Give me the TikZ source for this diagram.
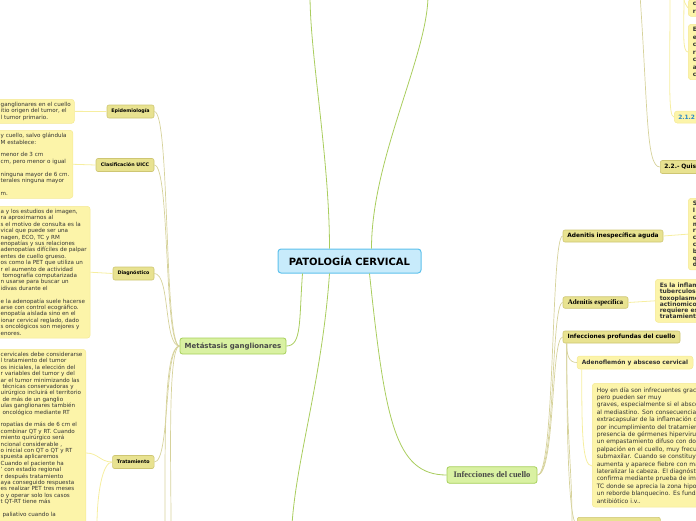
\documentclass[tikz,border=0pt]{standalone}
\usepackage{fontspec}
\setmainfont{DejaVu Sans}
\newfontfamily\mapserif{Liberation Serif}
\usepackage{tikz}
\usetikzlibrary{positioning}
\definecolor{rootfill}{HTML}{C8EBFB}
\definecolor{rootline}{HTML}{5EC1EC}
\definecolor{branchfill}{HTML}{D9F1A2}
\definecolor{branchline}{HTML}{A6CF5A}
\definecolor{topicfill}{HTML}{E8E290}
\definecolor{topicline}{HTML}{CEC673}
\definecolor{leaffill}{HTML}{FCF4A9}
\definecolor{leafline}{HTML}{F4E995}
\definecolor{mainlinkcol}{HTML}{A9CD5E}
\definecolor{sublinkcol}{HTML}{D6D29B}
\definecolor{leaflinkcol}{HTML}{F6EEA0}
\definecolor{textgray}{HTML}{474747}
\definecolor{linkblue}{HTML}{2A87C6}

\begin{document}
\begin{tikzpicture}[x=1pt,y=-1pt,
  root/.style={draw=rootline,fill=rootfill,line width=1pt,rounded corners=3pt,inner sep=0pt,
    font=\bfseries\fontsize{10}{12}\selectfont,minimum width=143,minimum height=24},
  branch/.style={draw=branchline,fill=branchfill,line width=0.8pt,rounded corners=2.5pt,inner sep=0pt,text=textgray},
  topic/.style={draw=topicline,fill=topicfill,line width=0.6pt,rounded corners=2pt,inner sep=0pt},
  ltopic/.style={topic,font=\bfseries\fontsize{4.8}{6}\selectfont,minimum height=13},
  rtopic/.style={topic,font=\bfseries\fontsize{5.9}{7}\selectfont,minimum height=12},
  leafbox/.style={fill=leaffill,draw=leafline,line width=0.5pt,rounded corners=3pt,align=left,text=black!80},
  lleaf/.style={leafbox,anchor=north west,inner xsep=3.5pt,inner ysep=3pt,font=\fontsize{5.6}{6.4}\selectfont},
  rleaf/.style={leafbox,anchor=north west,inner xsep=4.5pt,inner ysep=4pt,text width=150,font=\fontsize{6}{7.4}\selectfont},
  mainlink/.style={draw=mainlinkcol,line width=0.8pt},
  sublink/.style={draw=sublinkcol,line width=0.7pt},
  leaflink/.style={draw=leaflinkcol,line width=0.8pt}]
\useasboundingbox (0,0) rectangle (696,520);
\clip (0,0) rectangle (696,520);

% root and main branches
\node[root] (pc) at (349.5,261) {PATOLOGÍA CERVICAL};
\node[branch,font=\bfseries\fontsize{7}{8}\selectfont,minimum width=106,minimum height=16]
  (mg) at (233,346) {Metástasis ganglionares};
\node[branch,font=\mapserif\bfseries\fontsize{8.5}{10}\selectfont,minimum width=90,minimum height=16.5]
  (ic) at (492,475) {Infecciones del cuello};
\coordinate (r1) at (310,-5);
\coordinate (r2) at (428,-5);
\coordinate (r3) at (292,525);
\draw[mainlink] ([xshift=52pt]pc.north west) .. controls +(0,-90) and +(0,60) .. (r1);
\draw[mainlink] ([xshift=94pt]pc.north west) .. controls +(0,-90) and +(0,60) .. (r2);
\draw[mainlink] ([xshift=25pt]pc.south west) .. controls (299,320) and (302,346) .. (mg.east);
\draw[mainlink] ([xshift=52pt]pc.south west) .. controls (322,380) and (296,460) .. (r3);
\draw[mainlink] ([xshift=92pt]pc.south west) .. controls (385,420) and (395,475) .. (ic.west);

% metastasis topics
\node[ltopic,minimum width=47] (epi) at (130.5,111.5) {Epidemiología};
\node[ltopic,minimum width=58] (uicc) at (125,165) {Clasificación UICC};
\node[ltopic,minimum width=41] (diag) at (133.5,273.5) {Diagnóstico};
\node[ltopic,minimum width=41.5] (trat) at (133.3,462) {Tratamiento};
\foreach \t in {epi,uicc,diag,trat}{
  \draw[sublink] (mg.west) .. controls +(-16,0) and +(16,0) .. (\t.east);
}
\coordinate (m1) at (171,525);
\coordinate (m2) at (165,525);
\draw[sublink] (mg.west) .. controls +(-12,0) and +(0,-60) .. (m1);
\draw[sublink] (mg.west) .. controls +(-16,0) and +(0,-80) .. (m2);

% metastasis leaves
\node[lleaf] (lepi) at (-3,99) {ganglionares en el cuello\\itio origen del tumor, el\\l tumor primario.};
\node[lleaf] (luicc) at (-3,130) {y cuello, salvo glándula\\M establece:\\[6.4pt]
  menor de 3 cm\\cm, pero menor o igual\\[6.4pt]
  ninguna mayor de 6 cm.\\terales ninguna mayor\\[6.4pt]m.};
\node[lleaf] (ldiag) at (-3,206) {a y los estudios de imagen,\\ra aproximarnos al\\
  s el motivo de consulta es la\\vical que puede ser una\\nagen, ECO, TC y RM\\
  enopatías y sus relaciones\\adenopatías difíciles de palpar\\entes de cuello grueso.\\
  os como la PET que utiliza un\\r el aumento de actividad\\\ tomografía computarizada\\
  n usarse para buscar un\\idivas durante el\\[6.4pt]
  e la adenopatía suele hacerse\\arse con control ecográfico.\\enopatía aislada sino en el\\
  ionar cervical reglado, dado\\s oncológicos son mejores y\\enores.};
\node[lleaf] (ltrat) at (-3,349) {cervicales debe considerarse\\l tratamiento del tumor\\
  os iniciales, la elección del\\r variables del tumor y del\\ar el tumor minimizando las\\
  \ técnicas conservadoras y\\uirúrgico incluirá el territorio\\\ de más de un ganglio\\
  ulas ganglionares también\\\ oncológico mediante RT\\[6.4pt]
  ropatías de más de 6 cm el\\combinar QT y RT. Cuando\\miento quirúrgico será\\
  ncional considerable ,\\o inicial con QT o QT y RT\\spuesta aplicaremos\\
  Cuando el paciente ha\\' con estadio regional\\r después tratamiento\\
  aya conseguido respuesta\\es realizar PET tres meses\\o y operar solo los casos\\
  t QT-RT tiene más\\[6.4pt]\ paliativo cuando la\\};
\draw[leaflink] (lepi.east) -- (epi.west);
\draw[leaflink] (luicc.east) -- (uicc.west);
\draw[leaflink] (ldiag.east) -- (diag.west);
\draw[leaflink] ([yshift=-104pt]ltrat.north east) .. controls +(12,0) and +(-12,0) .. (trat.west);
\coordinate (t3) at (97,525);
\draw[leaflink] (trat.west) .. controls +(-10,0) and +(0,-30) .. (t3);

% infections topics
\node[rtopic,minimum width=100] (ai) at (613,236) {Adenitis inespecífica aguda};
\node[rtopic,font=\mapserif\bfseries\fontsize{7}{8}\selectfont,minimum width=65,minimum height=11.5]
  (ae) at (595.5,302.5) {Adenitis específica};
\node[rtopic,minimum width=117] (ip) at (621.5,337) {Infecciones profundas del cuello};
\foreach \t in {ai,ae,ip}{
  \draw[sublink] (ic.east) .. controls +(18,0) and +(-12,0) .. (\t.west);
}
\node[leafbox,font=\bfseries\fontsize{5.9}{7}\selectfont,inner sep=0pt,minimum width=116,minimum height=13]
  (af) at (635,362.5) {Adenoflemón y absceso cervical};
\node[topic,anchor=north west,minimum width=83,minimum height=14] (bn) at (577,517) {};
\coordinate (i3) at (572,525);
\draw[sublink] ([xshift=4pt]ip.south west) .. controls +(0,12) and +(-8,0) .. (af.west);
\draw[sublink] ([xshift=4pt]ip.south west) .. controls +(0,100) and +(-8,0) .. (bn.west);
\draw[sublink] ([xshift=4pt]ip.south west) .. controls +(0,100) and +(0,-60) .. (i3);

% infections leaves
\node[rleaf,font=\bfseries\fontsize{6}{6.8}\selectfont,inner ysep=3pt] (lai) at (688,198)
  {S\\I\\c\\m\\r\\c\\c\\b\\q\\d};
\node[rleaf,font=\bfseries\fontsize{6}{6.1}\selectfont] (lae) at (655,279)
  {Es la inflama\\tuberculosis,\\toxoplasmos\\actinomicosi\\requiere estu\\tratamiento d};
\node[rleaf] (laf) at (592,383) {Hoy en día son infrecuentes grac\\pero pueden ser muy\\
  graves, especialmente si el absce\\al mediastino. Son consecuencia\\
  extracapsular de la inflamación d\\por incumplimiento del tratamien\\
  presencia de gérmenes hiperviru\\un empastamiento difuso con dol\\
  palpación en el cuello, muy frecu\\submaxilar. Cuando se constituye\\
  aumenta y aparece fiebre con ma\\lateralizar la cabeza. El diagnósti\\
  confirma mediante prueba de ima\\TC donde se aprecia la zona hipo\\
  un reborde blanquecino. Es funda\\antibiótico i.v..};
\draw[leaflink] (ai.east) -- (lai.west);
\draw[leaflink] (ae.east) -- (lae.west);
\draw[leaflink] ([xshift=5pt]af.south west) .. controls +(0,60) and +(-10,0) .. ([yshift=-83pt]laf.north west);

% upper right
\node[topic,anchor=west,align=left,text width=50,inner xsep=4pt,minimum height=13,
  font=\bfseries\fontsize{5.9}{7}\selectfont] (q22) at (660,167) {2.2.- Quis};
\node[leafbox,anchor=west,text width=40,inner xsep=4pt,inner ysep=0pt,minimum height=12,text=linkblue,
  font=\bfseries\fontsize{5.9}{7}\selectfont] (n212) at (674,117) {2.1.2};
\node[rleaf,anchor=south west,font=\bfseries\fontsize{6}{7.6}\selectfont,inner ysep=3pt] (tb1) at (688,16.7) {c\\r};
\node[rleaf,font=\bfseries\fontsize{6}{7.5}\selectfont,inner ysep=3pt] (tb2) at (688,24) {E\\e\\c\\r\\c\\a\\c};
\coordinate (u1) at (640,-5);
\coordinate (u2) at (670,-5);
\coordinate (u3) at (684,-5);
\draw[sublink] (u1) .. controls (648,110) and (646,167) .. (q22.west);
\draw[leaflink] (u2) .. controls (670,80) and (668,117) .. (n212.west);
\draw[leaflink] (u3) .. controls (684,30) and (682,52) .. (tb2.west);
\draw[leaflink] (u3) .. controls (684,2) .. (tb1.west);
\end{tikzpicture}
\end{document}
